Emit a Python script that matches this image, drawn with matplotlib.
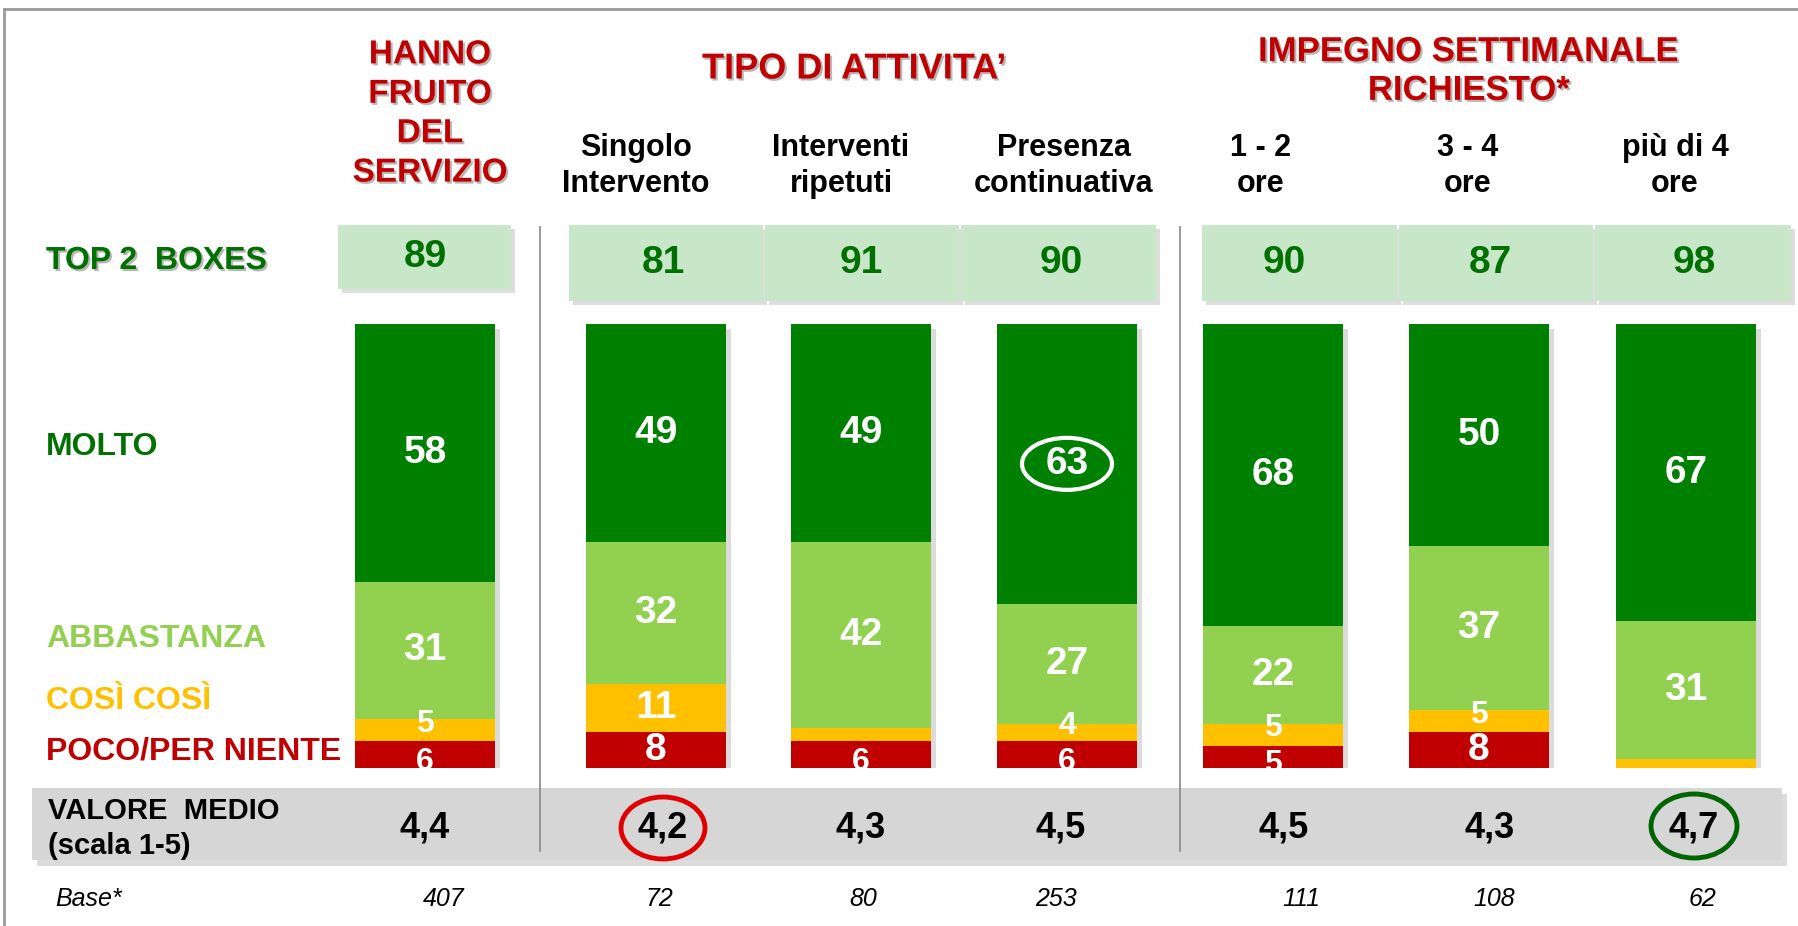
"""Soddisfazione per il servizio: stacked bars per segmento (matplotlib)."""
import matplotlib

matplotlib.use("Agg")
import matplotlib.pyplot as plt
import matplotlib.patheffects as pe
from matplotlib import font_manager as fm
from matplotlib.patches import Ellipse, Rectangle

# ---- data -----------------------------------------------------------------
groups = ["HANNO\nFRUITO\nDEL\nSERVIZIO", "TIPO DI ATTIVITA’", "IMPEGNO SETTIMANALE\nRICHIESTO*"]
categories = [
    "",
    "Singolo\nIntervento",
    "Interventi\nripetuti",
    "Presenza\ncontinuativa",
    "1 - 2\nore",
    "3 - 4\nore",
    "più di 4\nore",
]
molto = [58, 49, 49, 63, 68, 50, 67]
abbastanza = [31, 32, 42, 27, 22, 37, 31]
cosi_cosi = [5, 11, 3, 4, 5, 5, 2]
poco = [6, 8, 6, 6, 5, 8, 0]
top2 = [89, 81, 91, 90, 90, 87, 98]
media = [4.4, 4.2, 4.3, 4.5, 4.5, 4.3, 4.7]
base = [407, 72, 80, 253, 111, 108, 62]
row_labels = ["TOP 2  BOXES", "MOLTO", "ABBASTANZA", "COSÌ COSÌ", "POCO/PER NIENTE"]

# ---- layout (pixels of the 1798x926 canvas) ---------------------------------
W, H = 1798, 926
bar_x = [425, 656, 861, 1067, 1273, 1479, 1686]
bar_w = 140
bar_top, bar_bot = 324, 768
box_x = [(338, 511), (569, 763), (765, 959), (961, 1156), (1202, 1397), (1399, 1593), (1595, 1791)]
val_x = [425, 663, 861, 1061, 1284, 1490, 1694]
base_x = [444, 659, 863, 1056, 1301, 1494, 1702]
sub_x = [None, 636, 841, 1064, 1261, 1468, 1675]
sep_x = [540, 1180]

DARK = "#008000"
LIGHT = "#92d050"
YELLOW = "#ffc000"
RED = "#c00000"
TXT_GREEN = "#007000"
BOX = "#c8e7c9"


def pick(*names):
    for n in names:
        try:
            fm.findfont(fm.FontProperties(family=n), fallback_to_default=False)
            return n
        except ValueError:
            continue
    return "DejaVu Sans"


NARROW = pick("Liberation Sans Narrow", "Arial Narrow", "DejaVu Sans Condensed", "Liberation Sans")
plt.rcParams["font.family"] = [NARROW, "DejaVu Sans"]

fig = plt.figure(figsize=(W / 100, H / 100), dpi=100)

# bars axis, percent scale
bx = fig.add_axes([0, 1 - bar_bot / H, 1, (bar_bot - bar_top) / H])
bx.set_xlim(0, W)
bx.set_ylim(0, 100)
bx.axis("off")

# overlay axis in pixel units for text and decorations
ax = fig.add_axes([0, 0, 1, 1], zorder=2)
ax.set_xlim(0, W)
ax.set_ylim(H, 0)
ax.axis("off")
ax.patch.set_visible(False)

# bar shadows
bx.bar([x + 5 for x in bar_x], [100] * 7, bar_w, bottom=-1.2, color="#b0b0b0", alpha=0.45, zorder=1)
bottom = [0] * 7
segs = [(poco, RED, -1.6), (cosi_cosi, YELLOW, 1.4), (abbastanza, LIGHT, 0), (molto, DARK, 0)]
for vals, col, nudge in segs:
    bx.bar(bar_x, vals, bar_w, bottom=bottom, color=col, zorder=2, linewidth=0)
    for x, v, b in zip(bar_x, vals, bottom):
        if v >= 4:
            small = v < 7
            bx.text(x, b + v / 2 + (nudge if small else 0), f"{v}", ha="center", va="center",
                    color="white", fontsize=23 if small else 28, fontweight="bold", zorder=4)
    bottom = [b + v for b, v in zip(bottom, vals)]

# white ring around the Presenza continuativa "molto" value
i_max = molto.index(max(molto[1:4]))
cx, cy = ax.transData.inverted().transform(
    bx.transData.transform((bar_x[i_max], 100 - molto[i_max] / 2)))
ax.add_patch(Ellipse((cx, cy), 90, 52, fill=False, ec="white", lw=3, zorder=5))

# frame lines
ax.plot([4, 4], [9, H], color="#999999", lw=2)
ax.plot([4, W], [9, 9], color="#999999", lw=2)

shadow = [pe.withSimplePatchShadow(offset=(1.5, -1.5), shadow_rgbFace="#888888", alpha=0.6)]

# group headers
ax.text(430, 114, groups[0], ha="center", va="center", color=RED, fontsize=24,
        fontweight="bold", linespacing=1.35, path_effects=shadow)
ax.text(854, 69, groups[1], ha="center", va="center", color=RED, fontsize=26,
        fontweight="bold", path_effects=shadow)
ax.text(1469, 71, groups[2], ha="center", va="center", color=RED, fontsize=25,
        fontweight="bold", linespacing=1.22, path_effects=shadow)

for x, lab in zip(sub_x, categories):
    if x is None:
        continue
    ax.text(x, 166, lab, ha="center", va="center", color="black", fontsize=22,
            fontweight="bold", linespacing=1.26)

# top 2 boxes
for i, ((x0, x1), v) in enumerate(zip(box_x, top2)):
    y0, y1 = (225, 289) if i == 0 else (225, 301)
    ax.add_patch(Rectangle((x0 + 4, y0 + 4), x1 - x0, y1 - y0, color="#bdbdbd", alpha=0.5, lw=0))
    ax.add_patch(Rectangle((x0, y0), x1 - x0, y1 - y0, color=BOX, lw=0))
    ax.text(val_x[i], (y0 + y1) / 2, f"{v}", ha="center", va="center", color=TXT_GREEN,
            fontsize=28, fontweight="bold")

# separators
for x in sep_x:
    ax.plot([x, x], [227, 851], color="#888888", lw=1.2, zorder=3)

# row labels
ax.text(46, 261, row_labels[0], color=TXT_GREEN, fontsize=23, fontweight="bold", va="center",
        path_effects=shadow)
ax.text(46, 447, row_labels[1], color=TXT_GREEN, fontsize=23, fontweight="bold", va="center")
ax.text(46, 639, row_labels[2], color=LIGHT, fontsize=23, fontweight="bold", va="center")
ax.text(46, 701, row_labels[3], color=YELLOW, fontsize=23, fontweight="bold", va="center")
ax.text(46, 752, row_labels[4], color=RED, fontsize=23, fontweight="bold", va="center")

# valore medio band
ax.add_patch(Rectangle((37, 794), 1750, 72, color="#b8b8b8", alpha=0.5, lw=0))
ax.add_patch(Rectangle((32, 788), 1750, 72, color="#d6d6d6", lw=0))
ax.text(48, 811, "VALORE  MEDIO", fontsize=21, fontweight="bold", va="center")
ax.text(48, 846, "(scala 1-5)", fontsize=21, fontweight="bold", va="center")
for x, v in zip(val_x, media):
    ax.text(x, 828, f"{v:.1f}".replace(".", ","), ha="center", va="center", fontsize=26,
            fontweight="bold", zorder=4)
ax.add_patch(Ellipse((val_x[media.index(min(media))], 828), 84, 62, fill=False, ec="#e00000",
                     lw=3.5, zorder=5))
ax.add_patch(Ellipse((val_x[media.index(max(media))], 826), 86, 64, fill=False, ec="#006400",
                     lw=3.5, zorder=5))

# base row
ax.text(55, 899, "Base*", fontsize=18, style="italic", va="center")
for x, n in zip(base_x, base):
    ax.text(x, 899, f"{n}", ha="center", va="center", fontsize=18, style="italic")

fig.savefig("out.png", dpi=100)
